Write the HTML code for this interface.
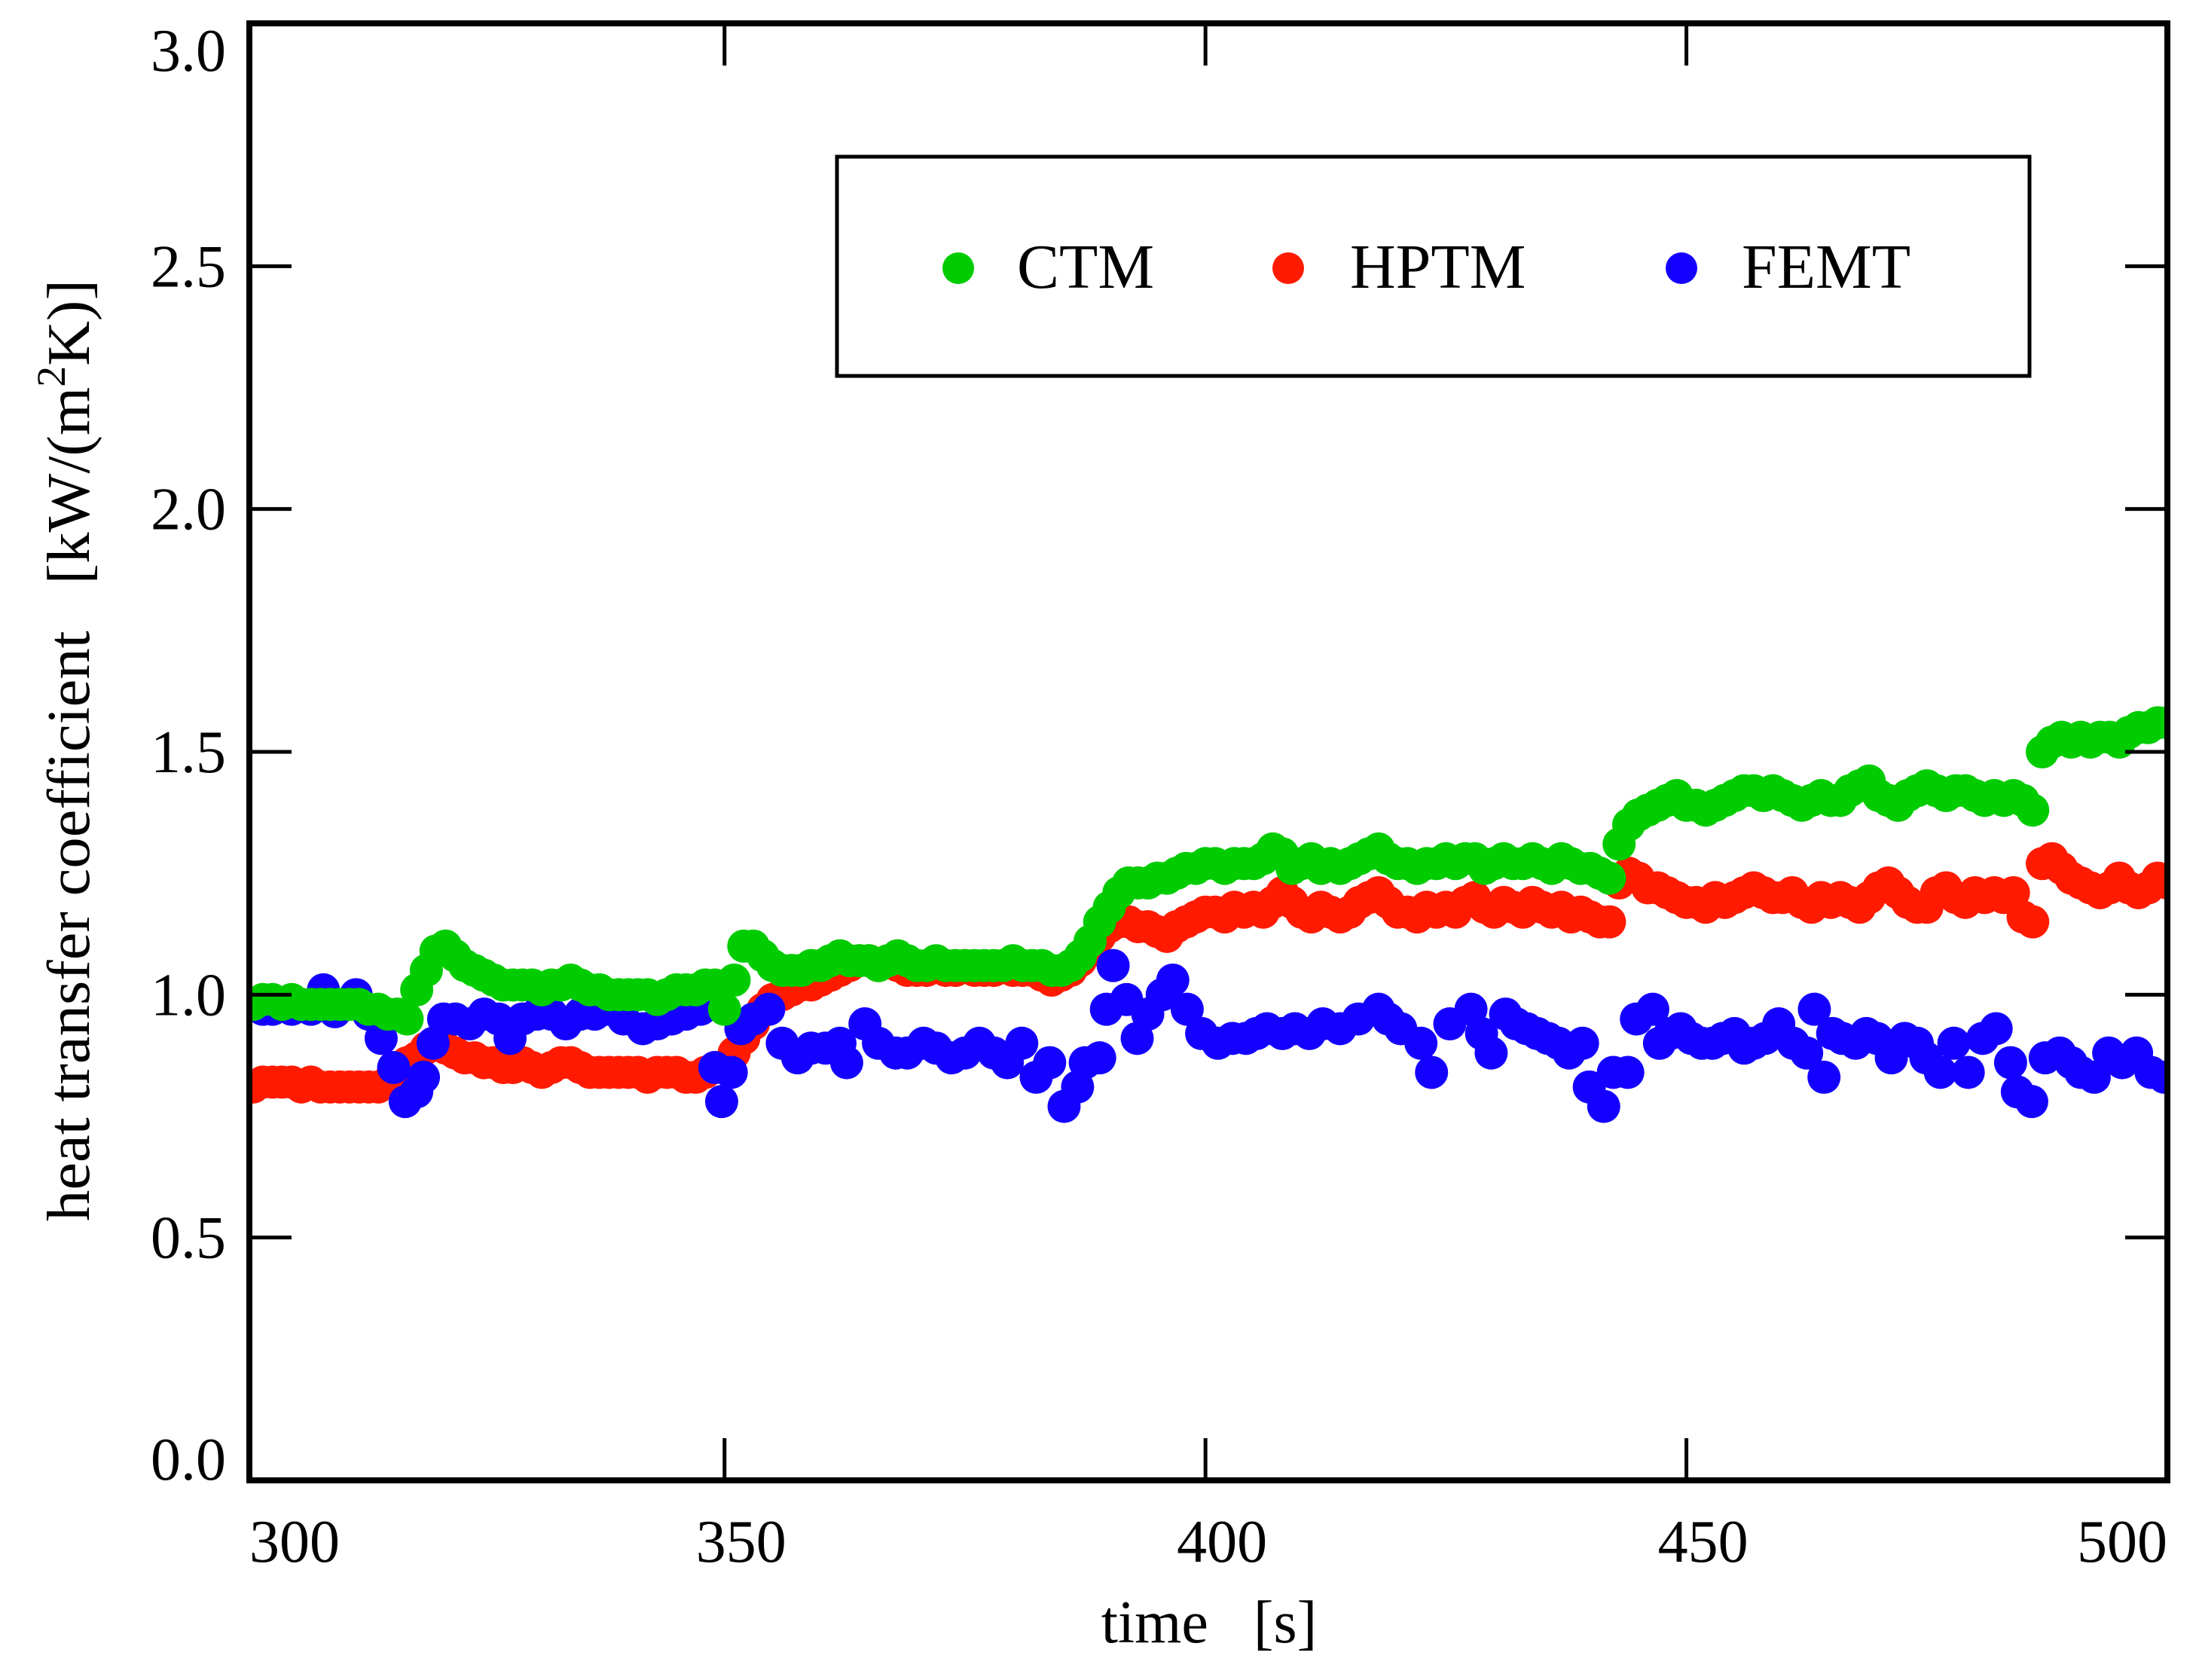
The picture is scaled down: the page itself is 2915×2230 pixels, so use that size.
<!DOCTYPE html>
<html><head><meta charset="utf-8"><style>
html,body{margin:0;padding:0;background:#fff;}
svg{display:block;font-family:"Liberation Serif","DejaVu Serif",serif;}
</style></head><body>
<svg id="chart" width="2915" height="2230" viewBox="0 0 2915 2230" xmlns="http://www.w3.org/2000/svg">
<defs><clipPath id="plotclip"><rect x="331" y="31" width="2546" height="1934"/></clipPath></defs>
<g id="marks" clip-path="url(#plotclip)"></g>
<g id="axes"></g>
<g>
<rect x="1111" y="208" width="1583" height="291" fill="#fff" stroke="#000" stroke-width="5"/>
<circle cx="1272" cy="356" r="21" fill="#00cc00"/>
<text x="1350" y="382" font-size="84">CTM</text>
<circle cx="1710" cy="356" r="21" fill="#ff1a00"/>
<text x="1792" y="382" font-size="84">HPTM</text>
<circle cx="2232" cy="356" r="21" fill="#1400ff"/>
<text x="2312" y="382" font-size="84">FEMT</text>
</g>
<text x="1605" y="2180" font-size="80" text-anchor="middle" xml:space="preserve">time   [s]</text>
<text transform="translate(118,996) rotate(-90)" font-size="80" text-anchor="middle" textLength="1250" lengthAdjust="spacingAndGlyphs" xml:space="preserve">heat transfer coefficient   [kW/(m<tspan font-size="54" dy="-32">2</tspan><tspan dy="32">K)]</tspan></text>
</svg>
<script>
const ctmValues = [0.98,0.98,0.99,0.99,0.98,0.99,0.98,0.98,0.98,0.98,0.98,0.98,0.98,0.97,0.97,0.96,0.96,
0.95,1.01,1.05,1.09,1.10,1.08,1.06,1.05,1.04,1.03,1.02,
1.02,1.02,1.02,1.01,1.02,1.02,1.03,1.02,1.01,1.01,
1.00,1.00,1.00,1.00,1.00,0.99,1.00,1.01,1.01,1.01,1.02,1.02,
0.97,1.03,1.10,1.10,1.08,1.06,1.05,1.05,1.05,1.06,1.06,1.07,1.08,1.07,1.07,1.07,1.06,1.07,1.08,1.07,1.06,
1.06,1.07,1.06,1.06,1.06,1.06,1.06,1.06,1.06,1.07,1.06,1.06,1.06,1.05,1.05,1.06,
1.08,1.11,1.15,1.18,1.21,1.23,1.23,1.23,1.24,1.24,1.25,1.26,1.26,1.27,
1.27,1.26,1.27,1.27,1.27,1.28,
1.30,1.29,1.26,1.27,1.28,1.26,1.27,1.26,1.27,1.28,1.29,
1.30,1.28,1.27,1.27,1.26,1.27,1.27,1.28,1.27,
1.28,1.28,1.26,1.27,1.28,1.27,1.27,1.28,1.27,1.26,1.28,1.27,1.26,1.26,1.25,
1.24,1.31,1.35,1.37,1.38,1.39,1.40,1.41,1.39,1.39,
1.38,1.39,1.40,1.41,1.42,1.42,1.41,1.42,1.41,1.40,
1.39,1.40,1.41,1.40,1.40,1.42,1.43,1.44,1.41,1.40,
1.39,1.41,1.42,1.43,1.42,1.41,1.42,1.42,1.41,1.40,
1.41,1.40,1.41,1.40,1.38,
1.50,1.52,1.53,1.52,1.53,1.52,1.53,1.53,1.52,1.54,1.55,1.55,1.56,1.56];
const hptmValues = [0.81,0.81,0.82,0.82,0.82,0.82,0.81,0.82,0.81,0.81,0.81,0.81,0.81,0.81,0.81,0.82,
0.84,0.86,0.87,0.89,0.90,0.89,0.88,0.87,0.87,0.86,0.86,0.85,0.85,0.86,0.85,0.84,0.85,0.86,0.86,0.85,0.84,
0.84,0.84,0.84,0.84,0.84,0.83,0.84,0.84,0.84,0.83,0.83,0.84,0.85,
0.85,0.88,0.91,0.94,0.97,0.99,1.00,1.01,1.02,1.02,1.03,1.04,1.05,1.06,1.07,1.07,1.06,1.07,1.06,1.05,1.05,
1.05,1.06,1.05,1.05,1.06,1.05,1.05,1.05,1.06,1.05,1.05,1.05,1.04,
1.03,1.04,1.05,1.07,1.09,1.12,1.14,1.15,1.15,1.14,1.14,1.13,1.12,1.14,1.15,1.16,1.17,
1.17,1.16,1.18,1.17,1.18,1.17,1.19,1.21,1.19,1.17,1.16,1.18,1.17,1.16,1.17,1.19,1.20,1.21,1.19,1.17,
1.17,1.16,1.18,1.17,1.18,1.17,1.19,1.20,1.18,1.17,1.19,1.18,1.17,1.19,1.18,1.17,1.18,1.16,1.17,1.16,1.15,1.15,
1.23,1.25,1.24,1.22,1.22,1.21,1.20,1.19,1.19,1.18,1.20,1.19,1.20,1.21,1.22,1.21,1.20,1.20,1.21,1.19,
1.18,1.20,1.19,1.20,1.19,1.18,1.20,1.22,1.23,1.21,1.19,1.18,1.18,1.21,1.22,1.20,1.19,1.21,1.20,1.21,1.20,1.21,1.16,1.15,
1.27,1.28,1.26,1.24,1.23,1.22,1.21,1.22,1.24,1.22,1.21,1.22,1.24,1.23];
const ctmTimes = ctmValues.map((v,i)=>300+i);
const hptmTimes = hptmValues.map((v,i)=>300+i);
const femtTimes = [300,301,302,303,304,305,306,307,308.3,309.5,310.5,311.7,313,314.3,315.6,316.8,318,318.7,319.7,320.8,
322,323.5,325,326.5,327.7,329,330.5,332,333.5,335,336.5,338,339.5,341.5,343,344.5,346,347.5,349,349.7,
350.7,351.7,353,354.6,356,357.6,359,360.5,362,362.7,364.6,366,367.8,369,370.7,372,373.6,375,376.5,378,
379.4,380.9,382.4,383.8,385.3,386.7,387.5,389,389.7,390.4,391.8,392.9,394,395.5,396.6,398.1,399.6,401.3,402.8,404.2,
405.3,406.4,408,409.3,410.8,412.2,414,415.9,418,419,420.3,422.4,423.5,425.4,427.6,428.7,429.7,431.2,432.3,433.4,
434.5,435.6,436.7,437.8,439.2,439.9,441.4,442.4,443.9,444.8,446.5,447.2,448.3,449.4,450.5,451.6,452.7,453.8,455,456,
457,458.2,459.6,461.1,462.5,463.3,464.3,465.2,466.2,467.6,468.7,469.8,471.3,472.7,474,474.9,476.4,477.8,479.3,480.8,
482.2,483.7,484.4,485.9,487.3,488.8,490,491,492.4,493.9,495.3,496.8,498.3,499.7];
const femtValues = [0.98,0.98,0.97,0.97,0.98,0.97,0.98,0.97,1.01,0.965,0.98,1.00,0.96,0.91,0.85,0.78,0.80,0.83,0.90,0.95,
0.95,0.94,0.96,0.95,0.91,0.95,0.96,0.96,0.94,0.96,0.96,0.97,0.95,0.93,0.94,0.95,0.96,0.97,0.85,0.78,
0.84,0.93,0.95,0.97,0.90,0.87,0.89,0.89,0.90,0.86,0.94,0.90,0.88,0.88,0.90,0.89,0.87,0.88,0.90,0.88,
0.86,0.90,0.83,0.86,0.77,0.81,0.86,0.87,0.97,1.06,0.99,0.91,0.96,1.00,1.03,0.97,0.92,0.90,0.91,0.91,
0.92,0.93,0.92,0.93,0.92,0.94,0.93,0.95,0.97,0.95,0.93,0.90,0.84,0.94,0.97,0.92,0.88,0.96,0.94,0.93,
0.92,0.91,0.90,0.88,0.90,0.81,0.77,0.84,0.84,0.95,0.97,0.90,0.92,0.93,0.91,0.90,0.90,0.91,0.92,0.89,
0.90,0.91,0.94,0.90,0.88,0.97,0.83,0.92,0.91,0.90,0.92,0.91,0.87,0.91,0.90,0.87,0.84,0.90,0.84,0.91,
0.93,0.86,0.80,0.78,0.87,0.88,0.86,0.84,0.83,0.88,0.86,0.88,0.84,0.83];
const xTicks = [300,350,400,450,500];
const xTickLabels = ["300","350","400","450","500"];
const yTicks = [0,0.5,1,1.5,2,2.5,3];
const yTickLabels = ["0.0","0.5","1.0","1.5","2.0","2.5","3.0"];

const NS="http://www.w3.org/2000/svg";
const L=331,R=2877,T=31,B=1965;
const X0=300.6,X1=500,Y0=0,Y1=3;
function xs(t){return L+(t-X0)/(X1-X0)*(R-L);}
function ys(v){return B-(v-Y0)/(Y1-Y0)*(B-T);}
const marks=document.getElementById('marks');
const axes=document.getElementById('axes');
function mk(tag,attrs,parent){const e=document.createElementNS(NS,tag);for(const k in attrs)e.setAttribute(k,attrs[k]);parent.appendChild(e);return e;}
function series(times,vals,color,name){
  const g=mk('g',{},marks);
  
  
  for(let i=0;i<vals.length;i++){
    const c=mk('circle',{cx:xs(times[i]),cy:ys(vals[i]),r:22,fill:color},g);
    
    
  }
}
series(hptmTimes,hptmValues,'#ff1a00','hptm');
series(femtTimes,femtValues,'#1400ff','femt');
series(ctmTimes,ctmValues,'#00cc00','ctm');

const fr=mk('rect',{x:L,y:T,width:R-L,height:B-T,fill:'none',stroke:'#000','stroke-width':8},axes);


xTicks.forEach((t,i)=>{
  const x=xs(t);
  if(i>0&&i<xTicks.length-1){
    const a=mk('line',{x1:x,x2:x,y1:B,y2:B-56,stroke:'#000','stroke-width':5},axes);
    
    
    const b=mk('line',{x1:x,x2:x,y1:T,y2:T+56,stroke:'#000','stroke-width':5},axes);
    
    
  }
  let anchor='middle',lx=x+22;
  if(i===0){anchor='start';lx=L;}
  if(i===xTicks.length-1){anchor='end';lx=R;}
  const tx=mk('text',{x:lx,y:2073,'font-size':80,'text-anchor':anchor},axes);
  tx.textContent=xTickLabels[i];
  
  
});
yTicks.forEach((v,i)=>{
  const y=ys(v);
  if(i>0&&i<yTicks.length-1){
    const a=mk('line',{x1:L,x2:L+56,y1:y,y2:y,stroke:'#000','stroke-width':5},axes);
    
    
    const b=mk('line',{x1:R,x2:R-56,y1:y,y2:y,stroke:'#000','stroke-width':5},axes);
    
    
  }
  let cy=y;
  if(i===0)cy=1937;
  if(i===yTicks.length-1)cy=67;
  const tx=mk('text',{x:300,y:cy+27,'font-size':80,'text-anchor':'end'},axes);
  tx.textContent=yTickLabels[i];
  
  
});
</script>
</body></html>
